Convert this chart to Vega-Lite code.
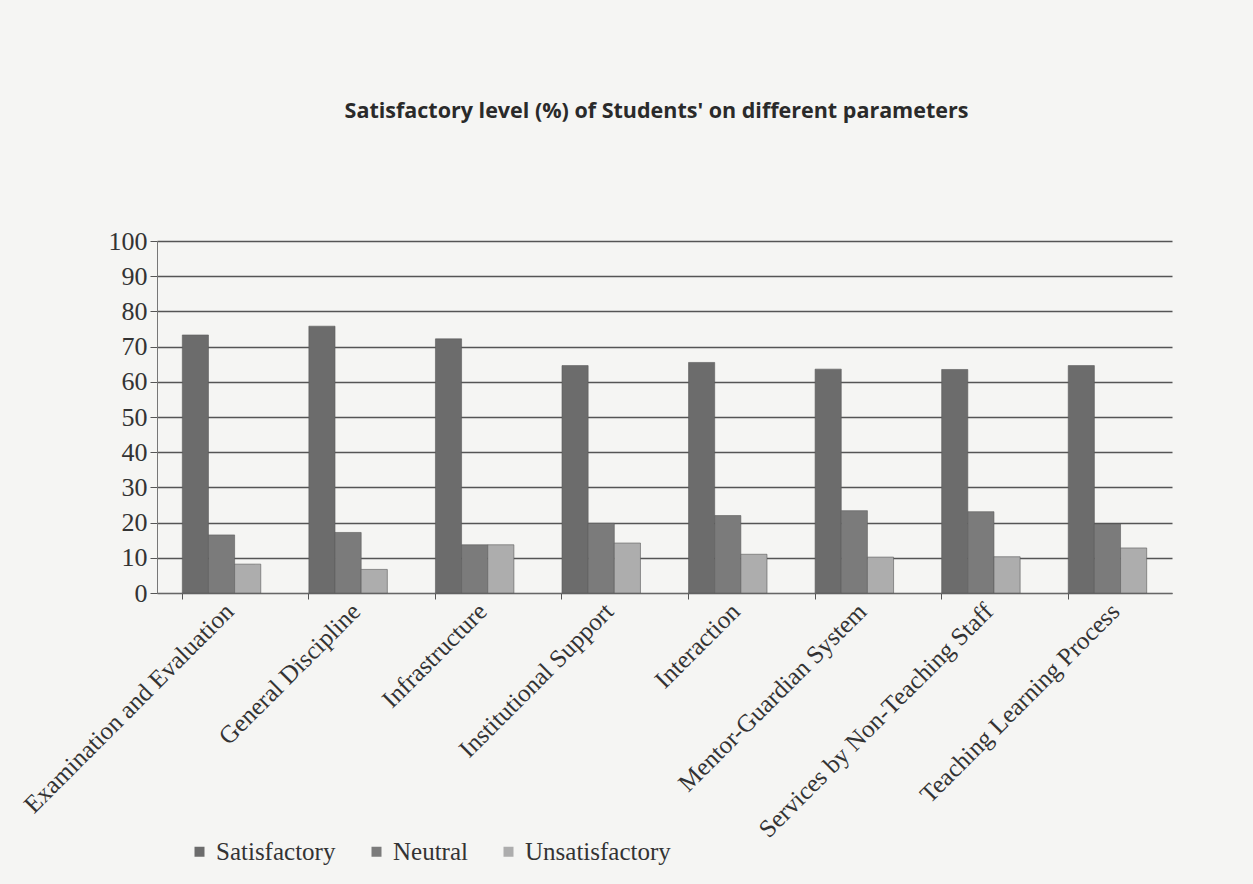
{
  "$schema": "https://vega.github.io/schema/vega-lite/v6.json",
  "autosize": {"type": "none"},
  "padding": {"left": 157, "top": 241, "right": 81, "bottom": 291},
  "width": 1015,
  "height": 352,
  "background": "#f5f5f3",
  "title": {
    "text": "Satisfactory level (%) of Students' on different parameters",
    "font": "Open Sans",
    "fontSize": 21.5,
    "fontWeight": "bold",
    "color": "#2a2a2a",
    "anchor": "middle",
    "dx": -8,
    "offset": 106
  },
  "data": {
    "values": [
      {"parameter": "Examination and Evaluation", "level": "Satisfactory", "pct": 73.3},
      {"parameter": "Examination and Evaluation", "level": "Neutral", "pct": 16.5},
      {"parameter": "Examination and Evaluation", "level": "Unsatisfactory", "pct": 8.2},
      {"parameter": "General Discipline", "level": "Satisfactory", "pct": 75.8},
      {"parameter": "General Discipline", "level": "Neutral", "pct": 17.2},
      {"parameter": "General Discipline", "level": "Unsatisfactory", "pct": 6.7},
      {"parameter": "Infrastructure", "level": "Satisfactory", "pct": 72.2},
      {"parameter": "Infrastructure", "level": "Neutral", "pct": 13.7},
      {"parameter": "Infrastructure", "level": "Unsatisfactory", "pct": 13.7},
      {"parameter": "Institutional Support", "level": "Satisfactory", "pct": 64.6},
      {"parameter": "Institutional Support", "level": "Neutral", "pct": 19.8},
      {"parameter": "Institutional Support", "level": "Unsatisfactory", "pct": 14.2},
      {"parameter": "Interaction", "level": "Satisfactory", "pct": 65.5},
      {"parameter": "Interaction", "level": "Neutral", "pct": 22},
      {"parameter": "Interaction", "level": "Unsatisfactory", "pct": 11},
      {"parameter": "Mentor-Guardian System", "level": "Satisfactory", "pct": 63.6},
      {"parameter": "Mentor-Guardian System", "level": "Neutral", "pct": 23.4},
      {"parameter": "Mentor-Guardian System", "level": "Unsatisfactory", "pct": 10.2},
      {"parameter": "Services by Non-Teaching Staff", "level": "Satisfactory", "pct": 63.5},
      {"parameter": "Services by Non-Teaching Staff", "level": "Neutral", "pct": 23.1},
      {"parameter": "Services by Non-Teaching Staff", "level": "Unsatisfactory", "pct": 10.3},
      {"parameter": "Teaching Learning Process", "level": "Satisfactory", "pct": 64.6},
      {"parameter": "Teaching Learning Process", "level": "Neutral", "pct": 19.6},
      {"parameter": "Teaching Learning Process", "level": "Unsatisfactory", "pct": 12.8}
    ]
  },
  "mark": {"type": "bar", "stroke": "#5a5a5a", "strokeWidth": 0.6},
  "encoding": {
    "x": {
      "field": "parameter", "type": "nominal", "sort": null,
      "scale": {"paddingInner": 0.38, "paddingOuter": 0.2},
      "axis": {
        "title": null,
        "labelAngle": -45, "labelAlign": "right", "labelBaseline": "middle",
        "labelFont": "Liberation Serif", "labelFontSize": 25, "labelColor": "#333",
        "labelPadding": 8, "labelOffset": 8, "labelLimit": 500,
        "bandPosition": 0, "tickSize": 6, "tickColor": "#555",
        "domainColor": "#666", "domainWidth": 1.2
      }
    },
    "xOffset": {"field": "level", "type": "nominal", "sort": ["Satisfactory", "Neutral", "Unsatisfactory"]},
    "y": {
      "field": "pct", "type": "quantitative",
      "scale": {"domain": [0, 100]},
      "axis": {
        "title": null, "values": [0, 10, 20, 30, 40, 50, 60, 70, 80, 90, 100],
        "labelOverlap": false,
        "labelFont": "Liberation Serif", "labelFontSize": 26, "labelColor": "#333",
        "labelPadding": 3, "tickSize": 7, "tickColor": "#555",
        "gridColor": "#555", "gridWidth": 1.4,
        "domainColor": "#777", "domainWidth": 1
      }
    },
    "color": {
      "field": "level", "type": "nominal",
      "sort": ["Satisfactory", "Neutral", "Unsatisfactory"],
      "scale": {"domain": ["Satisfactory", "Neutral", "Unsatisfactory"], "range": ["#6c6c6c", "#7b7b7b", "#adadad"]},
      "legend": {
        "title": null, "orient": "none", "direction": "horizontal",
        "legendX": 30, "legendY": 598,
        "symbolType": "square", "symbolSize": 100, "symbolStrokeWidth": 0,
        "labelFont": "Liberation Serif", "labelFontSize": 25, "labelColor": "#333",
        "columnPadding": 28, "labelOffset": 4
      }
    }
  },
  "config": {"view": {"stroke": null}}
}
